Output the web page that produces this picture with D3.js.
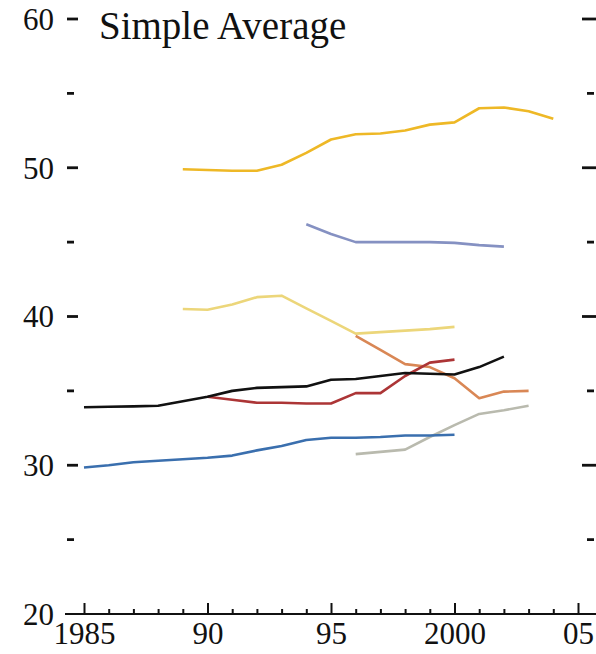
<!DOCTYPE html>
<html>
<head>
<meta charset="utf-8">
<script src="https://cdn.jsdelivr.net/npm/d3@7"></script>
<style>
  html, body { margin: 0; padding: 0; background: #fff; }
  svg { display: block; }
</style>
</head>
<body>
<svg id="chart" width="596" height="654"></svg>
<script>
// ---- data ----
const title = "Simple Average";
const xMajorTicks = [1985, 1990, 1995, 2000, 2005];
const xTickLabels = ["1985", "90", "95", "2000", "05"];
const xMinorTicks = [1986,1987,1988,1989,1991,1992,1993,1994,1996,1997,1998,1999,2001,2002,2003,2004];
const yMajorTicks = [20, 30, 40, 50, 60];
const yTickLabels = ["20", "30", "40", "50", "60"];
const yMinorTicks = [25, 35, 45, 55];

const goldYears   = [1989,1990,1991,1992,1993,1994,1995,1996,1997,1998,1999,2000,2001,2002,2003,2004];
const goldValues  = [49.9,49.85,49.8,49.8,50.2,51.0,51.9,52.25,52.3,52.5,52.9,53.05,54.0,54.05,53.8,53.3];

const slateYears  = [1994,1995,1996,1997,1998,1999,2000,2001,2002];
const slateValues = [46.2,45.55,45.0,45.0,45.0,45.0,44.95,44.8,44.7];

const paleYears   = [1989,1990,1991,1992,1993,1994,1995,1996,1997,1998,1999,2000];
const paleValues  = [40.5,40.45,40.8,41.3,41.4,40.55,39.7,38.85,38.95,39.05,39.15,39.3];

const orangeYears  = [1996,1997,1998,1999,2000,2001,2002,2003];
const orangeValues = [38.7,37.75,36.8,36.6,35.85,34.5,34.95,35.0];

const blackYears  = [1985,1986,1987,1988,1989,1990,1991,1992,1993,1994,1995,1996,1997,1998,1999,2000,2001,2002];
const blackValues = [33.9,33.93,33.96,34.0,34.3,34.6,35.0,35.2,35.25,35.3,35.75,35.8,36.0,36.2,36.15,36.1,36.6,37.3];

const redYears  = [1990,1991,1992,1993,1994,1995,1996,1997,1998,1999,2000];
const redValues = [34.6,34.4,34.2,34.2,34.15,34.15,34.85,34.85,36.0,36.9,37.1];

const blueYears  = [1985,1986,1987,1988,1989,1990,1991,1992,1993,1994,1995,1996,1997,1998,1999,2000];
const blueValues = [29.85,30.0,30.2,30.3,30.4,30.5,30.65,31.0,31.3,31.7,31.85,31.85,31.9,32.0,32.0,32.05];

const grayYears  = [1996,1997,1998,1999,2000,2001,2002,2003];
const grayValues = [30.75,30.9,31.05,31.9,32.7,33.45,33.7,34.0];

const seriesList = [
  { years: goldYears,   values: goldValues,   color: "#eeb826" },
  { years: slateYears,  values: slateValues,  color: "#8591c2" },
  { years: paleYears,   values: paleValues,   color: "#ecd67a" },
  { years: grayYears,   values: grayValues,   color: "#b9baae" },
  { years: blueYears,   values: blueValues,   color: "#3a6fae" },
  { years: orangeYears, values: orangeValues, color: "#d98755" },
  { years: redYears,    values: redValues,    color: "#ac3536" },
  { years: blackYears,  values: blackValues,  color: "#111111" }
];

// ---- chart ----
const svg = d3.select("#chart");
const x = d3.scaleLinear().domain([1985, 2005]).range([84, 578]);
const y = d3.scaleLinear().domain([20, 60]).range([614, 19]);
const serif = "'Liberation Serif', 'DejaVu Serif', serif";

// lines
const line = d3.line().x(d => x(d[0])).y(d => y(d[1]));
seriesList.forEach(s => {
  svg.append("path")
    .datum(s.years.map((yr, i) => [yr, s.values[i]]))
    .attr("fill", "none")
    .attr("stroke", s.color)
    .attr("stroke-width", 2.6)
    .attr("stroke-linejoin", "round")
    .attr("d", line);
});

// bottom axis: major ticks with labels
const axisMajor = d3.axisBottom(x)
  .tickValues(xMajorTicks)
  .tickSizeInner(-11)
  .tickSizeOuter(0)
  .tickPadding(8)
  .tickFormat((d, i) => xTickLabels[i]);
const gMaj = svg.append("g").attr("transform", `translate(0,${y(20)})`).call(axisMajor);
gMaj.select(".domain").remove();
gMaj.selectAll(".tick line").attr("stroke", "#111").attr("stroke-width", 2);
gMaj.selectAll(".tick text")
  .attr("font-family", serif).attr("font-size", 31).attr("fill", "#111");

const axisMinor = d3.axisBottom(x)
  .tickValues(xMinorTicks)
  .tickSizeInner(-5)
  .tickSizeOuter(0)
  .tickFormat("");
const gMin = svg.append("g").attr("transform", `translate(0,${y(20)})`).call(axisMinor);
gMin.select(".domain").remove();
gMin.selectAll(".tick line").attr("stroke", "#111").attr("stroke-width", 2);

// baseline
svg.append("line")
  .attr("x1", 65).attr("x2", 596)
  .attr("y1", y(20)).attr("y2", y(20))
  .attr("stroke", "#111").attr("stroke-width", 2.2);

// left y ticks (dashes) and labels
svg.selectAll(".lmaj").data(yMajorTicks.filter(v => v !== 20)).enter().append("line")
  .attr("x1", 67).attr("x2", 78)
  .attr("y1", d => y(d)).attr("y2", d => y(d))
  .attr("stroke", "#111").attr("stroke-width", 2.8);
svg.selectAll(".lmin").data(yMinorTicks).enter().append("line")
  .attr("x1", 67).attr("x2", 74)
  .attr("y1", d => y(d)).attr("y2", d => y(d))
  .attr("stroke", "#111").attr("stroke-width", 2.8);
svg.selectAll(".ylab").data(yMajorTicks).enter().append("text")
  .attr("x", 54).attr("y", d => y(d)).attr("dy", "0.35em")
  .attr("text-anchor", "end")
  .attr("font-family", serif).attr("font-size", 31).attr("fill", "#111")
  .text((d, i) => yTickLabels[i]);

// right y ticks
svg.selectAll(".rmaj").data(yMajorTicks.filter(v => v !== 20)).enter().append("line")
  .attr("x1", 582).attr("x2", 596)
  .attr("y1", d => y(d)).attr("y2", d => y(d))
  .attr("stroke", "#111").attr("stroke-width", 2.8);
svg.selectAll(".rmin").data(yMinorTicks).enter().append("line")
  .attr("x1", 587).attr("x2", 594)
  .attr("y1", d => y(d)).attr("y2", d => y(d))
  .attr("stroke", "#111").attr("stroke-width", 2.8);

// title
svg.append("text")
  .attr("x", 99).attr("y", 39)
  .attr("font-family", serif).attr("font-size", 39).attr("fill", "#111")
  .text(title);
</script>
</body>
</html>
